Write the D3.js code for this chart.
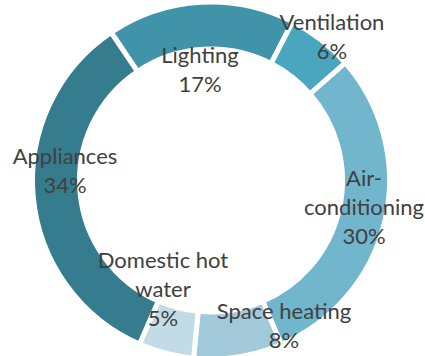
<!DOCTYPE html>
<html>
<head>
<meta charset="utf-8">
<script src="https://cdn.jsdelivr.net/npm/d3@7"></script>
<style>
  html, body { margin: 0; padding: 0; background: #fff; }
  svg { display: block; }
  text { font-family: Lato, "Open Sans", sans-serif; fill: #404040; }
</style>
</head>
<body>
<svg id="chart" width="425" height="356"></svg>
<script>
// Share of energy use by end use (%)
const categories = ["Lighting", "Ventilation", "Air-conditioning", "Space heating", "Domestic hot water", "Appliances"];
const shares = [17, 6, 30, 8, 5, 34];
const sliceColors = ["#4193aa", "#4aa6be", "#71b6cd", "#a1c9da", "#c1dce6", "#367c8f"];
// Label text lines per slice (the value line is appended from the data)
const labelLines = [["Lighting"], ["Ventilation"], ["Air-", "conditioning"], ["Space heating"], ["Domestic hot", "water"], ["Appliances"]];
// Label anchors relative to the ring centre: [dx, dy of first baseline]
const labelAnchors = [[-11, -118], [121, -151], [153, 5], [73, 138], [-48, 87], [-146, -17]];

const width = 425, height = 356;
const cx = 211, cy = 180.5;
const outerR = 176, innerR = 134;
const lineH = 29;

const svg = d3.select("#chart");
const g = svg.append("g").attr("transform", `translate(${cx},${cy})`);

const data = categories.map((c, i) => ({ name: c, value: shares[i], color: sliceColors[i], lines: labelLines[i], anchor: labelAnchors[i] }));

const pie = d3.pie()
  .value(d => d.value)
  .sort(null)
  .startAngle(-34 * Math.PI / 180)
  .endAngle(326 * Math.PI / 180);

const arc = d3.arc().innerRadius(innerR - 2.5).outerRadius(outerR + 2.5);

g.selectAll("path.slice")
  .data(pie(data))
  .join("path")
  .attr("class", "slice")
  .attr("d", arc)
  .attr("fill", d => d.data.color)
  .attr("stroke", "#fff")
  .attr("stroke-width", 5)
  .attr("stroke-linejoin", "miter");

const labels = g.selectAll("text.label")
  .data(data)
  .join("text")
  .attr("class", "label")
  .attr("text-anchor", "middle")
  .attr("font-size", 22)
  .attr("x", d => d.anchor[0])
  .attr("y", d => d.anchor[1]);

labels.each(function(d) {
  const t = d3.select(this);
  const lines = d.lines.concat([d.value + "%"]);
  lines.forEach((ln, i) => {
    t.append("tspan")
      .attr("x", d.anchor[0])
      .attr("y", d.anchor[1] + i * lineH)
      .text(ln);
  });
});
</script>
</body>
</html>
